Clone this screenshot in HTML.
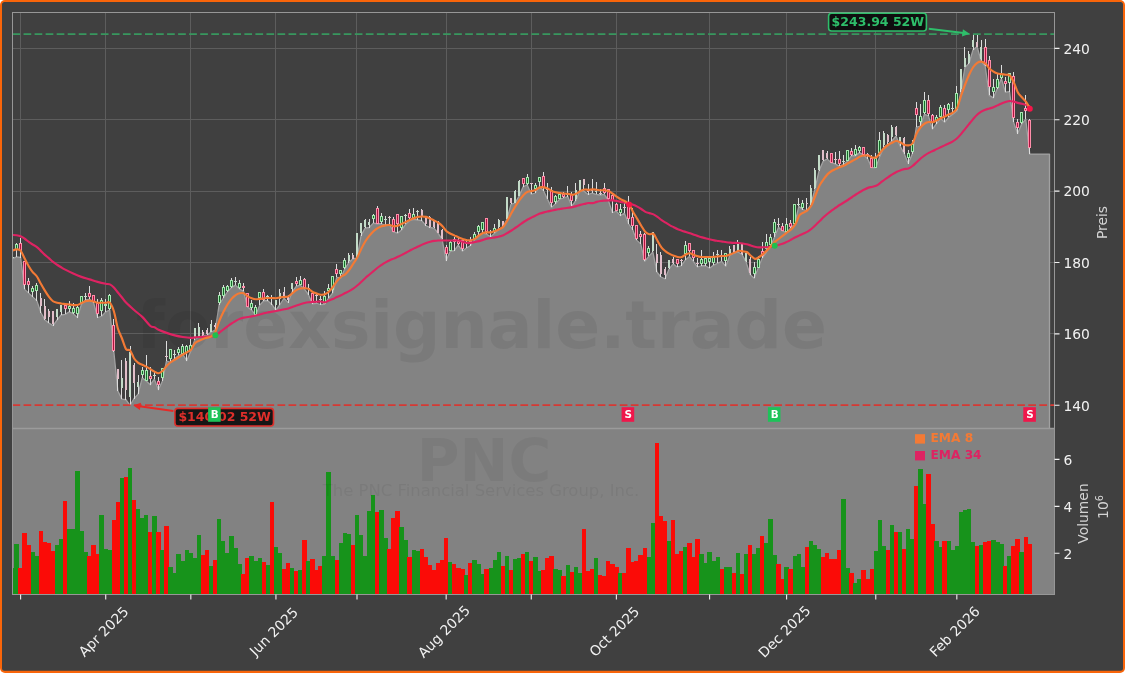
<!DOCTYPE html>
<html lang="de"><head><meta charset="utf-8"><title>PNC Chart</title>
<style>html,body{margin:0;padding:0;background:#fff;}body{width:1125px;height:673px;overflow:hidden;}svg{display:block;}text{font-family:'DejaVu Sans','Liberation Sans',sans-serif;}</style></head><body>
<svg width="1125" height="673" viewBox="0 0 1125 673">
<rect x="0" y="0" width="1125" height="673" fill="#fff"/>
<rect x="0" y="0" width="1125" height="673" rx="5" ry="5" fill="#f9650a"/>
<rect x="2" y="2" width="1121" height="668.7" rx="2.5" ry="2.5" fill="#404040"/>
<g opacity="0.999">
<defs><clipPath id="cp"><rect x="12.5" y="12.5" width="1042" height="416"/></clipPath>
<clipPath id="cv"><rect x="12.5" y="428.5" width="1042" height="166"/></clipPath></defs>
<rect x="12.5" y="428.5" width="1042" height="166" fill="#838383"/>
<path d="M20.5 12.5V428.5M105.5 12.5V428.5M190.5 12.5V428.5M275.5 12.5V428.5M356.5 12.5V428.5M446.5 12.5V428.5M531.5 12.5V428.5M616.5 12.5V428.5M709.5 12.5V428.5M786.5 12.5V428.5M875.5 12.5V428.5M956.5 12.5V428.5M12.5 405.5H1054.5M12.5 333.5H1054.5M12.5 262.5H1054.5M12.5 191.5H1054.5M12.5 119.5H1054.5M12.5 48.5H1054.5" stroke="#5e5e5e" stroke-width="1" fill="none" shape-rendering="crispEdges"/>
<g clip-path="url(#cp)">
<polygon points="12.5,258.75 16.55,256.88 20.61,257.5 24.66,289.38 28.71,293.12 32.76,296.88 36.82,300.62 40.87,312.5 44.92,320 48.98,323.12 53.03,325.62 57.08,320 61.13,315 65.19,314.38 69.24,311.88 73.29,313.75 77.35,317.5 81.4,304.38 85.45,300 89.51,299.38 93.56,302.5 97.61,317.5 101.66,316.25 105.72,311.88 109.77,310 113.82,351.62 117.88,391 121.93,399.12 125.98,399.75 130.03,405.38 134.09,398.5 138.14,394.12 142.19,377.88 146.25,381 150.3,384.75 154.35,379.12 158.4,389.75 162.46,381 166.51,361 170.56,362.25 174.62,358.75 178.67,355.38 182.72,354.12 186.77,360.75 190.83,351 194.88,339.5 198.93,337 202.99,335.75 207.04,335.12 211.09,332 215.15,330.12 219.2,304.5 223.25,298.25 227.3,292 231.36,287.62 235.41,285.12 239.46,288.88 243.52,291.38 247.57,307 251.62,310.12 255.67,315.12 259.73,305.12 263.78,300.75 267.83,300.75 271.89,304.5 275.94,310.12 279.99,304.5 284.04,298.25 288.1,302.62 292.15,292 296.2,286.38 300.26,285.12 304.31,288.88 308.36,294.5 312.41,303.88 316.47,303.25 320.52,304.5 324.57,304.25 328.63,298 332.68,293 336.73,277.38 340.78,278 344.84,268.75 348.89,262.5 352.94,258.75 357,258.12 361.05,235.62 365.1,228.12 369.16,227.5 373.21,223.12 377.26,223.75 381.31,223.75 385.37,225 389.42,224.38 393.47,231.88 397.53,233.12 401.58,230 405.63,224.38 409.68,220.62 413.74,219.38 417.79,220 421.84,220.62 425.9,225.62 429.95,227.5 434,228.12 438.05,233.12 442.11,239.38 446.16,260.62 450.21,251.25 454.27,250.62 458.32,245 462.37,251.25 466.42,248 470.48,245.5 474.53,239.88 478.58,234.88 482.64,233 486.69,234.25 490.74,236.75 494.8,233 498.85,229.25 502.9,226.75 506.95,219.25 511.01,204.25 515.06,203 519.11,196.12 523.17,186.75 527.22,184.88 531.27,194.25 535.32,193 539.38,186.75 543.43,190.5 547.48,199.25 551.54,207.38 555.59,203.62 559.64,199.25 563.69,198 567.75,196.5 571.8,206.12 575.85,200.5 579.91,190.5 583.96,191.12 588.01,194.5 592.06,193.12 596.12,194.38 600.17,195 604.22,194.38 608.28,200 612.33,212.5 616.38,211.25 620.44,215.62 624.49,213.12 628.54,223.75 632.59,229.5 636.65,240.12 640.7,243.88 644.75,261.38 648.81,256.38 652.86,252 656.91,272 660.96,277 665.02,278.88 669.07,268.88 673.12,263.88 677.18,267 681.23,265.75 685.28,260.12 689.33,256.38 693.39,261.38 697.44,267 701.49,265.75 705.55,265.75 709.6,268.25 713.65,265.12 717.7,263.25 721.76,261.38 725.81,266.38 729.86,255.12 733.92,253.25 737.97,252 742.02,254.5 746.07,262 750.13,274.5 754.18,278.25 758.23,267.88 762.29,257.88 766.34,252.25 770.39,246 774.45,237.25 778.5,227.25 782.55,231 786.6,232.88 790.66,227.88 794.71,224.12 798.76,206.38 802.82,209.5 806.87,210.75 810.92,204.5 814.97,188.88 819.03,170.75 823.08,161.38 827.13,158.88 831.19,162.62 835.24,163.88 839.29,166.38 843.34,164.5 847.4,161.38 851.45,155.75 855.5,155.75 859.56,152.62 863.61,155.12 867.66,158.88 871.71,167.62 875.77,167.62 879.82,156.38 883.87,147 887.93,144.5 891.98,141 896.03,136 900.09,146 904.14,153.5 908.19,163.5 912.24,154.12 916.3,127.25 920.35,126 924.4,114.12 928.46,116 932.51,129.12 936.56,123.5 940.61,118.5 944.67,122.25 948.72,117.25 952.77,114.12 956.83,111 960.88,91.62 964.93,67.25 968.98,63.5 973.04,49.75 977.09,46.62 981.14,61 985.2,66 989.25,95.38 993.3,97.88 997.35,88.5 1001.41,78.5 1005.46,92.25 1009.51,91.62 1013.57,122.25 1017.62,133.5 1021.67,124.12 1025.72,119.12 1029.78,154.12 1049.5,154.12 1049.5,428.5 12.5,428.5" fill="#848484"/>
<polyline points="12.5,258.75 16.55,256.88 20.61,257.5 24.66,289.38 28.71,293.12 32.76,296.88 36.82,300.62 40.87,312.5 44.92,320 48.98,323.12 53.03,325.62 57.08,320 61.13,315 65.19,314.38 69.24,311.88 73.29,313.75 77.35,317.5 81.4,304.38 85.45,300 89.51,299.38 93.56,302.5 97.61,317.5 101.66,316.25 105.72,311.88 109.77,310 113.82,351.62 117.88,391 121.93,399.12 125.98,399.75 130.03,405.38 134.09,398.5 138.14,394.12 142.19,377.88 146.25,381 150.3,384.75 154.35,379.12 158.4,389.75 162.46,381 166.51,361 170.56,362.25 174.62,358.75 178.67,355.38 182.72,354.12 186.77,360.75 190.83,351 194.88,339.5 198.93,337 202.99,335.75 207.04,335.12 211.09,332 215.15,330.12 219.2,304.5 223.25,298.25 227.3,292 231.36,287.62 235.41,285.12 239.46,288.88 243.52,291.38 247.57,307 251.62,310.12 255.67,315.12 259.73,305.12 263.78,300.75 267.83,300.75 271.89,304.5 275.94,310.12 279.99,304.5 284.04,298.25 288.1,302.62 292.15,292 296.2,286.38 300.26,285.12 304.31,288.88 308.36,294.5 312.41,303.88 316.47,303.25 320.52,304.5 324.57,304.25 328.63,298 332.68,293 336.73,277.38 340.78,278 344.84,268.75 348.89,262.5 352.94,258.75 357,258.12 361.05,235.62 365.1,228.12 369.16,227.5 373.21,223.12 377.26,223.75 381.31,223.75 385.37,225 389.42,224.38 393.47,231.88 397.53,233.12 401.58,230 405.63,224.38 409.68,220.62 413.74,219.38 417.79,220 421.84,220.62 425.9,225.62 429.95,227.5 434,228.12 438.05,233.12 442.11,239.38 446.16,260.62 450.21,251.25 454.27,250.62 458.32,245 462.37,251.25 466.42,248 470.48,245.5 474.53,239.88 478.58,234.88 482.64,233 486.69,234.25 490.74,236.75 494.8,233 498.85,229.25 502.9,226.75 506.95,219.25 511.01,204.25 515.06,203 519.11,196.12 523.17,186.75 527.22,184.88 531.27,194.25 535.32,193 539.38,186.75 543.43,190.5 547.48,199.25 551.54,207.38 555.59,203.62 559.64,199.25 563.69,198 567.75,196.5 571.8,206.12 575.85,200.5 579.91,190.5 583.96,191.12 588.01,194.5 592.06,193.12 596.12,194.38 600.17,195 604.22,194.38 608.28,200 612.33,212.5 616.38,211.25 620.44,215.62 624.49,213.12 628.54,223.75 632.59,229.5 636.65,240.12 640.7,243.88 644.75,261.38 648.81,256.38 652.86,252 656.91,272 660.96,277 665.02,278.88 669.07,268.88 673.12,263.88 677.18,267 681.23,265.75 685.28,260.12 689.33,256.38 693.39,261.38 697.44,267 701.49,265.75 705.55,265.75 709.6,268.25 713.65,265.12 717.7,263.25 721.76,261.38 725.81,266.38 729.86,255.12 733.92,253.25 737.97,252 742.02,254.5 746.07,262 750.13,274.5 754.18,278.25 758.23,267.88 762.29,257.88 766.34,252.25 770.39,246 774.45,237.25 778.5,227.25 782.55,231 786.6,232.88 790.66,227.88 794.71,224.12 798.76,206.38 802.82,209.5 806.87,210.75 810.92,204.5 814.97,188.88 819.03,170.75 823.08,161.38 827.13,158.88 831.19,162.62 835.24,163.88 839.29,166.38 843.34,164.5 847.4,161.38 851.45,155.75 855.5,155.75 859.56,152.62 863.61,155.12 867.66,158.88 871.71,167.62 875.77,167.62 879.82,156.38 883.87,147 887.93,144.5 891.98,141 896.03,136 900.09,146 904.14,153.5 908.19,163.5 912.24,154.12 916.3,127.25 920.35,126 924.4,114.12 928.46,116 932.51,129.12 936.56,123.5 940.61,118.5 944.67,122.25 948.72,117.25 952.77,114.12 956.83,111 960.88,91.62 964.93,67.25 968.98,63.5 973.04,49.75 977.09,46.62 981.14,61 985.2,66 989.25,95.38 993.3,97.88 997.35,88.5 1001.41,78.5 1005.46,92.25 1009.51,91.62 1013.57,122.25 1017.62,133.5 1021.67,124.12 1025.72,119.12 1029.78,154.12 1049.5,154.12 1049.5,428.5" fill="none" stroke="#a2a2a2" stroke-width="1.3" stroke-linejoin="round"/>
</g>
<text x="481.5" y="348.4" font-size="66.3" font-weight="bold" text-anchor="middle" fill="#000" fill-opacity="0.065">forexsignale.trade</text>
<g clip-path="url(#cp)" shape-rendering="crispEdges">
<g fill="#dedede"><rect x="12" y="256.88" width="1" height="1.88"/><rect x="16" y="243.12" width="1" height="13.75"/><rect x="20" y="238.12" width="1" height="19.38"/><rect x="24" y="260.62" width="1" height="28.75"/><rect x="28" y="278.12" width="1" height="15"/><rect x="32" y="285.62" width="1" height="11.25"/><rect x="36" y="283.12" width="1" height="17.5"/><rect x="40" y="292.5" width="1" height="20"/><rect x="44" y="298.75" width="1" height="21.25"/><rect x="48" y="309.38" width="1" height="13.75"/><rect x="53" y="310.62" width="1" height="15"/><rect x="57" y="308.75" width="1" height="11.25"/><rect x="61" y="305" width="1" height="10"/><rect x="65" y="303.12" width="1" height="11.25"/><rect x="69" y="300.62" width="1" height="11.25"/><rect x="73" y="302.75" width="1" height="11"/><rect x="77" y="306.25" width="1" height="11.25"/><rect x="81" y="295.62" width="1" height="8.75"/><rect x="85" y="292.5" width="1" height="7.5"/><rect x="89" y="286.25" width="1" height="13.12"/><rect x="93" y="294.75" width="1" height="7.75"/><rect x="97" y="299.38" width="1" height="18.12"/><rect x="101" y="297.5" width="1" height="18.75"/><rect x="105" y="298.75" width="1" height="13.12"/><rect x="109" y="294.38" width="1" height="15.62"/><rect x="113" y="319.38" width="1" height="32.25"/><rect x="117" y="368.5" width="1" height="22.5"/><rect x="121" y="360.38" width="1" height="38.75"/><rect x="125" y="357.5" width="1" height="42.25"/><rect x="130" y="346.25" width="1" height="59.12"/><rect x="134" y="362.5" width="1" height="36"/><rect x="138" y="375.38" width="1" height="18.75"/><rect x="142" y="367.25" width="1" height="10.62"/><rect x="146" y="355.38" width="1" height="25.62"/><rect x="150" y="366.62" width="1" height="18.12"/><rect x="154" y="371.62" width="1" height="7.5"/><rect x="158" y="376.62" width="1" height="13.12"/><rect x="162" y="367.88" width="1" height="13.12"/><rect x="166" y="341" width="1" height="20"/><rect x="170" y="348.5" width="1" height="13.75"/><rect x="174" y="350.38" width="1" height="8.38"/><rect x="178" y="346.62" width="1" height="8.75"/><rect x="182" y="344.12" width="1" height="10"/><rect x="186" y="345.38" width="1" height="15.38"/><rect x="190" y="339.12" width="1" height="11.88"/><rect x="194" y="328.25" width="1" height="11.25"/><rect x="198" y="323.25" width="1" height="13.75"/><rect x="202" y="329.5" width="1" height="6.25"/><rect x="207" y="328.25" width="1" height="6.88"/><rect x="211" y="320.12" width="1" height="11.88"/><rect x="215" y="322.62" width="1" height="7.5"/><rect x="219" y="292" width="1" height="12.5"/><rect x="223" y="285.12" width="1" height="13.12"/><rect x="227" y="284.5" width="1" height="7.5"/><rect x="231" y="277.62" width="1" height="10"/><rect x="235" y="277" width="1" height="8.12"/><rect x="239" y="280.12" width="1" height="8.75"/><rect x="243" y="283.25" width="1" height="8.12"/><rect x="247" y="292.62" width="1" height="14.38"/><rect x="251" y="299.5" width="1" height="10.62"/><rect x="255" y="304.5" width="1" height="10.62"/><rect x="259" y="292" width="1" height="13.12"/><rect x="263" y="288.88" width="1" height="11.88"/><rect x="267" y="295.12" width="1" height="5.62"/><rect x="271" y="295.12" width="1" height="9.38"/><rect x="275" y="299.5" width="1" height="10.62"/><rect x="279" y="288.88" width="1" height="15.62"/><rect x="284" y="287" width="1" height="11.25"/><rect x="288" y="295.12" width="1" height="7.5"/><rect x="292" y="282.62" width="1" height="9.38"/><rect x="296" y="277" width="1" height="9.38"/><rect x="300" y="276.38" width="1" height="8.75"/><rect x="304" y="278.25" width="1" height="10.62"/><rect x="308" y="283.88" width="1" height="10.62"/><rect x="312" y="292.62" width="1" height="11.25"/><rect x="316" y="293.88" width="1" height="9.38"/><rect x="320" y="296.38" width="1" height="8.12"/><rect x="324" y="291.12" width="1" height="13.12"/><rect x="328" y="284.25" width="1" height="13.75"/><rect x="332" y="275.5" width="1" height="17.5"/><rect x="336" y="264.25" width="1" height="13.12"/><rect x="340" y="269.88" width="1" height="8.12"/><rect x="344" y="258.12" width="1" height="10.62"/><rect x="348" y="253.12" width="1" height="9.38"/><rect x="352" y="252.5" width="1" height="6.25"/><rect x="356" y="233.12" width="1" height="25"/><rect x="361" y="222.5" width="1" height="13.12"/><rect x="365" y="218.75" width="1" height="9.38"/><rect x="369" y="218.75" width="1" height="8.75"/><rect x="373" y="213.75" width="1" height="9.38"/><rect x="377" y="206.25" width="1" height="17.5"/><rect x="381" y="212.5" width="1" height="11.25"/><rect x="385" y="216.25" width="1" height="8.75"/><rect x="389" y="216.25" width="1" height="8.12"/><rect x="393" y="216.88" width="1" height="15"/><rect x="397" y="213.75" width="1" height="19.38"/><rect x="401" y="215.62" width="1" height="14.38"/><rect x="405" y="214.38" width="1" height="10"/><rect x="409" y="208.75" width="1" height="11.88"/><rect x="413" y="207.5" width="1" height="11.88"/><rect x="417" y="210" width="1" height="10"/><rect x="421" y="208.75" width="1" height="11.88"/><rect x="425" y="216.88" width="1" height="8.75"/><rect x="429" y="215.62" width="1" height="11.88"/><rect x="434" y="220" width="1" height="8.12"/><rect x="438" y="220.62" width="1" height="12.5"/><rect x="442" y="228.75" width="1" height="10.62"/><rect x="446" y="245" width="1" height="15.62"/><rect x="450" y="241.25" width="1" height="10"/><rect x="454" y="236.88" width="1" height="13.75"/><rect x="458" y="238.12" width="1" height="6.88"/><rect x="462" y="239.38" width="1" height="11.88"/><rect x="466" y="239.25" width="1" height="8.75"/><rect x="470" y="236.75" width="1" height="8.75"/><rect x="474" y="232.38" width="1" height="7.5"/><rect x="478" y="224.88" width="1" height="10"/><rect x="482" y="221.75" width="1" height="11.25"/><rect x="486" y="218" width="1" height="16.25"/><rect x="490" y="229.88" width="1" height="6.88"/><rect x="494" y="224.25" width="1" height="8.75"/><rect x="498" y="219.25" width="1" height="10"/><rect x="502" y="220.5" width="1" height="6.25"/><rect x="506" y="196.75" width="1" height="22.5"/><rect x="511" y="198" width="1" height="6.25"/><rect x="515" y="189.88" width="1" height="13.12"/><rect x="519" y="179.88" width="1" height="16.25"/><rect x="523" y="178" width="1" height="8.75"/><rect x="527" y="173.62" width="1" height="11.25"/><rect x="531" y="183" width="1" height="11.25"/><rect x="535" y="183" width="1" height="10"/><rect x="539" y="176.75" width="1" height="10"/><rect x="543" y="172.38" width="1" height="18.12"/><rect x="547" y="183" width="1" height="16.25"/><rect x="551" y="186.75" width="1" height="20.62"/><rect x="555" y="194.88" width="1" height="8.75"/><rect x="559" y="191.75" width="1" height="7.5"/><rect x="563" y="192.38" width="1" height="5.62"/><rect x="567" y="185.5" width="1" height="11"/><rect x="571" y="192.38" width="1" height="13.75"/><rect x="575" y="183" width="1" height="17.5"/><rect x="579" y="179.88" width="1" height="10.62"/><rect x="583" y="178.62" width="1" height="12.5"/><rect x="588" y="184.25" width="1" height="10.25"/><rect x="592" y="179.38" width="1" height="13.75"/><rect x="596" y="181.88" width="1" height="12.5"/><rect x="600" y="188.75" width="1" height="6.25"/><rect x="604" y="183.12" width="1" height="11.25"/><rect x="608" y="188.75" width="1" height="11.25"/><rect x="612" y="194.38" width="1" height="18.12"/><rect x="616" y="202.5" width="1" height="8.75"/><rect x="620" y="204.38" width="1" height="11.25"/><rect x="624" y="203.12" width="1" height="10"/><rect x="628" y="196.25" width="1" height="27.5"/><rect x="632" y="207.62" width="1" height="21.88"/><rect x="636" y="224.5" width="1" height="15.62"/><rect x="640" y="230.75" width="1" height="13.12"/><rect x="644" y="232.62" width="1" height="28.75"/><rect x="648" y="246.38" width="1" height="10"/><rect x="652" y="232" width="1" height="20"/><rect x="656" y="243.88" width="1" height="28.12"/><rect x="660" y="252" width="1" height="25"/><rect x="665" y="267" width="1" height="11.88"/><rect x="669" y="259.5" width="1" height="9.38"/><rect x="673" y="257" width="1" height="6.88"/><rect x="677" y="258.88" width="1" height="8.12"/><rect x="681" y="258.88" width="1" height="6.88"/><rect x="685" y="241.38" width="1" height="18.75"/><rect x="689" y="242.62" width="1" height="13.75"/><rect x="693" y="250.12" width="1" height="11.25"/><rect x="697" y="257.62" width="1" height="9.38"/><rect x="701" y="249.5" width="1" height="16.25"/><rect x="705" y="258.25" width="1" height="7.5"/><rect x="709" y="258.25" width="1" height="10"/><rect x="713" y="252" width="1" height="13.12"/><rect x="717" y="249.5" width="1" height="13.75"/><rect x="721" y="250.12" width="1" height="11.25"/><rect x="725" y="252.62" width="1" height="13.75"/><rect x="729" y="246.38" width="1" height="8.75"/><rect x="733" y="245.12" width="1" height="8.12"/><rect x="737" y="240.12" width="1" height="11.88"/><rect x="742" y="242.62" width="1" height="11.88"/><rect x="746" y="250.75" width="1" height="11.25"/><rect x="750" y="257" width="1" height="17.5"/><rect x="754" y="262" width="1" height="16.25"/><rect x="758" y="256" width="1" height="11.88"/><rect x="762" y="242.25" width="1" height="15.62"/><rect x="766" y="234.12" width="1" height="18.12"/><rect x="770" y="234.12" width="1" height="11.88"/><rect x="774" y="218.5" width="1" height="18.75"/><rect x="778" y="217.88" width="1" height="9.38"/><rect x="782" y="222.88" width="1" height="8.12"/><rect x="786" y="217.88" width="1" height="15"/><rect x="790" y="220.38" width="1" height="7.5"/><rect x="794" y="203.5" width="1" height="20.62"/><rect x="798" y="198.25" width="1" height="8.12"/><rect x="802" y="200.12" width="1" height="9.38"/><rect x="806" y="198.25" width="1" height="12.5"/><rect x="810" y="184.5" width="1" height="20"/><rect x="814" y="168.25" width="1" height="20.62"/><rect x="819" y="154.5" width="1" height="16.25"/><rect x="823" y="150.12" width="1" height="11.25"/><rect x="827" y="151.38" width="1" height="7.5"/><rect x="831" y="152.62" width="1" height="10"/><rect x="835" y="152" width="1" height="11.88"/><rect x="839" y="151.38" width="1" height="15"/><rect x="843" y="154.5" width="1" height="10"/><rect x="847" y="150.12" width="1" height="11.25"/><rect x="851" y="147.62" width="1" height="8.12"/><rect x="855" y="145.12" width="1" height="10.62"/><rect x="859" y="146.38" width="1" height="6.25"/><rect x="863" y="146.75" width="1" height="8.38"/><rect x="867" y="153.25" width="1" height="5.62"/><rect x="871" y="155.12" width="1" height="12.5"/><rect x="875" y="152.62" width="1" height="15"/><rect x="879" y="132" width="1" height="24.38"/><rect x="883" y="131.38" width="1" height="15.62"/><rect x="887" y="133.88" width="1" height="10.62"/><rect x="891" y="124.75" width="1" height="16.25"/><rect x="896" y="126" width="1" height="10"/><rect x="900" y="136.62" width="1" height="9.38"/><rect x="904" y="137.25" width="1" height="16.25"/><rect x="908" y="150.38" width="1" height="13.12"/><rect x="912" y="139.75" width="1" height="14.38"/><rect x="916" y="101.62" width="1" height="25.62"/><rect x="920" y="103.5" width="1" height="22.5"/><rect x="924" y="92.25" width="1" height="21.88"/><rect x="928" y="94.75" width="1" height="21.25"/><rect x="932" y="113.5" width="1" height="15.62"/><rect x="936" y="114.5" width="1" height="9"/><rect x="940" y="105.38" width="1" height="13.12"/><rect x="944" y="105.38" width="1" height="16.88"/><rect x="948" y="102.88" width="1" height="14.38"/><rect x="952" y="102.25" width="1" height="11.88"/><rect x="956" y="86" width="1" height="25"/><rect x="960" y="69.12" width="1" height="22.5"/><rect x="964" y="47.25" width="1" height="20"/><rect x="968" y="51" width="1" height="12.5"/><rect x="973" y="34.12" width="1" height="15.62"/><rect x="977" y="34.75" width="1" height="11.88"/><rect x="981" y="40.38" width="1" height="20.62"/><rect x="985" y="39.12" width="1" height="26.88"/><rect x="989" y="56" width="1" height="39.38"/><rect x="993" y="78.5" width="1" height="19.38"/><rect x="997" y="74.12" width="1" height="14.38"/><rect x="1001" y="65.38" width="1" height="13.12"/><rect x="1005" y="77.25" width="1" height="15"/><rect x="1009" y="72.88" width="1" height="18.75"/><rect x="1013" y="71.62" width="1" height="50.62"/><rect x="1017" y="119.12" width="1" height="14.38"/><rect x="1021" y="111.62" width="1" height="12.5"/><rect x="1025" y="95.38" width="1" height="23.75"/><rect x="1029" y="119.12" width="1" height="35"/></g>
<g fill="#a6e6b0"><rect x="15" y="244" width="3" height="6"/><rect x="31" y="288" width="3" height="4"/><rect x="35" y="285" width="3" height="6"/><rect x="68" y="306" width="3" height="3"/><rect x="72" y="308" width="3" height="5"/><rect x="76" y="307" width="3" height="7"/><rect x="80" y="296" width="3" height="7"/><rect x="100" y="300" width="3" height="11"/><rect x="104" y="304" width="3" height="2"/><rect x="108" y="295" width="3" height="14"/><rect x="141" y="370" width="3" height="5"/><rect x="145" y="370" width="3" height="11"/><rect x="161" y="368" width="3" height="10"/><rect x="169" y="349" width="3" height="10"/><rect x="177" y="349" width="3" height="4"/><rect x="181" y="346" width="3" height="8"/><rect x="185" y="346" width="3" height="7"/><rect x="189" y="345" width="3" height="5"/><rect x="218" y="295" width="3" height="8"/><rect x="222" y="287" width="3" height="9"/><rect x="226" y="286" width="3" height="5"/><rect x="230" y="280" width="3" height="7"/><rect x="238" y="283" width="3" height="5"/><rect x="250" y="303" width="3" height="5"/><rect x="254" y="307" width="3" height="8"/><rect x="258" y="292" width="3" height="6"/><rect x="299" y="280" width="3" height="5"/><rect x="323" y="296" width="3" height="8"/><rect x="327" y="288" width="3" height="3"/><rect x="331" y="276" width="3" height="14"/><rect x="339" y="270" width="3" height="4"/><rect x="343" y="260" width="3" height="8"/><rect x="372" y="215" width="3" height="4"/><rect x="380" y="216" width="3" height="6"/><rect x="400" y="216" width="3" height="12"/><rect x="412" y="214" width="3" height="4"/><rect x="449" y="242" width="3" height="9"/><rect x="473" y="234" width="3" height="5"/><rect x="477" y="226" width="3" height="6"/><rect x="481" y="222" width="3" height="8"/><rect x="493" y="228" width="3" height="4"/><rect x="526" y="177" width="3" height="7"/><rect x="534" y="185" width="3" height="4"/><rect x="538" y="177" width="3" height="5"/><rect x="554" y="196" width="3" height="6"/><rect x="558" y="194" width="3" height="5"/><rect x="619" y="209" width="3" height="4"/><rect x="647" y="248" width="3" height="5"/><rect x="684" y="245" width="3" height="9"/><rect x="700" y="259" width="3" height="5"/><rect x="704" y="258" width="3" height="6"/><rect x="708" y="258" width="3" height="4"/><rect x="712" y="257" width="3" height="6"/><rect x="724" y="253" width="3" height="8"/><rect x="753" y="267" width="3" height="7"/><rect x="757" y="259" width="3" height="9"/><rect x="765" y="242" width="3" height="7"/><rect x="769" y="237" width="3" height="8"/><rect x="773" y="222" width="3" height="11"/><rect x="785" y="224" width="3" height="8"/><rect x="793" y="204" width="3" height="20"/><rect x="801" y="203" width="3" height="5"/><rect x="846" y="150" width="3" height="11"/><rect x="854" y="149" width="3" height="6"/><rect x="858" y="147" width="3" height="4"/><rect x="874" y="158" width="3" height="10"/><rect x="878" y="140" width="3" height="13"/><rect x="907" y="153" width="3" height="5"/><rect x="911" y="144" width="3" height="8"/><rect x="919" y="116" width="3" height="6"/><rect x="923" y="100" width="3" height="13"/><rect x="935" y="117" width="3" height="4"/><rect x="939" y="107" width="3" height="10"/><rect x="947" y="104" width="3" height="6"/><rect x="955" y="93" width="3" height="17"/><rect x="992" y="87" width="3" height="5"/><rect x="996" y="79" width="3" height="9"/><rect x="1000" y="74" width="3" height="4"/><rect x="1008" y="73" width="3" height="10"/><rect x="1020" y="112" width="3" height="11"/></g>
<g fill="#ff8fab"><rect x="19" y="243" width="3" height="8"/><rect x="23" y="261" width="3" height="24"/><rect x="27" y="281" width="3" height="4"/><rect x="64" y="305" width="3" height="4"/><rect x="88" y="293" width="3" height="4"/><rect x="92" y="295" width="3" height="7"/><rect x="96" y="303" width="3" height="11"/><rect x="112" y="325" width="3" height="26"/><rect x="149" y="376" width="3" height="3"/><rect x="157" y="381" width="3" height="4"/><rect x="242" y="286" width="3" height="2"/><rect x="246" y="293" width="3" height="14"/><rect x="262" y="292" width="3" height="8"/><rect x="295" y="281" width="3" height="3"/><rect x="303" y="279" width="3" height="9"/><rect x="311" y="293" width="3" height="9"/><rect x="335" y="269" width="3" height="5"/><rect x="376" y="208" width="3" height="16"/><rect x="392" y="219" width="3" height="13"/><rect x="396" y="214" width="3" height="10"/><rect x="408" y="213" width="3" height="5"/><rect x="445" y="247" width="3" height="7"/><rect x="453" y="239" width="3" height="3"/><rect x="457" y="241" width="3" height="3"/><rect x="461" y="240" width="3" height="9"/><rect x="469" y="241" width="3" height="3"/><rect x="485" y="218" width="3" height="14"/><rect x="522" y="178" width="3" height="6"/><rect x="542" y="176" width="3" height="12"/><rect x="550" y="190" width="3" height="13"/><rect x="562" y="194" width="3" height="3"/><rect x="570" y="194" width="3" height="7"/><rect x="603" y="188" width="3" height="5"/><rect x="607" y="189" width="3" height="10"/><rect x="611" y="195" width="3" height="6"/><rect x="615" y="204" width="3" height="7"/><rect x="627" y="203" width="3" height="16"/><rect x="631" y="217" width="3" height="9"/><rect x="635" y="225" width="3" height="14"/><rect x="639" y="234" width="3" height="3"/><rect x="643" y="234" width="3" height="26"/><rect x="676" y="259" width="3" height="5"/><rect x="688" y="243" width="3" height="8"/><rect x="692" y="250" width="3" height="8"/><rect x="761" y="251" width="3" height="5"/><rect x="781" y="226" width="3" height="5"/><rect x="789" y="223" width="3" height="4"/><rect x="830" y="153" width="3" height="10"/><rect x="838" y="159" width="3" height="5"/><rect x="850" y="151" width="3" height="4"/><rect x="862" y="147" width="3" height="8"/><rect x="866" y="154" width="3" height="2"/><rect x="870" y="158" width="3" height="10"/><rect x="915" y="108" width="3" height="7"/><rect x="927" y="100" width="3" height="14"/><rect x="931" y="115" width="3" height="8"/><rect x="943" y="108" width="3" height="9"/><rect x="984" y="47" width="3" height="18"/><rect x="988" y="60" width="3" height="27"/><rect x="1004" y="81" width="3" height="3"/><rect x="1012" y="76" width="3" height="42"/><rect x="1016" y="122" width="3" height="6"/><rect x="1024" y="108" width="3" height="3"/><rect x="1028" y="120" width="3" height="28"/></g>
<g fill="#147028"><rect x="16" y="245" width="1" height="4"/><rect x="32" y="289" width="1" height="2"/><rect x="36" y="286" width="1" height="4"/><rect x="69" y="307" width="1" height="1"/><rect x="73" y="309" width="1" height="3"/><rect x="77" y="308" width="1" height="5"/><rect x="81" y="297" width="1" height="5"/><rect x="101" y="301" width="1" height="9"/><rect x="109" y="296" width="1" height="12"/><rect x="142" y="371" width="1" height="3"/><rect x="146" y="371" width="1" height="9"/><rect x="162" y="369" width="1" height="8"/><rect x="170" y="350" width="1" height="8"/><rect x="178" y="350" width="1" height="2"/><rect x="182" y="347" width="1" height="6"/><rect x="186" y="347" width="1" height="5"/><rect x="190" y="346" width="1" height="3"/><rect x="219" y="296" width="1" height="6"/><rect x="223" y="288" width="1" height="7"/><rect x="227" y="287" width="1" height="3"/><rect x="231" y="281" width="1" height="5"/><rect x="239" y="284" width="1" height="3"/><rect x="251" y="304" width="1" height="3"/><rect x="255" y="308" width="1" height="6"/><rect x="259" y="293" width="1" height="4"/><rect x="300" y="281" width="1" height="3"/><rect x="324" y="297" width="1" height="6"/><rect x="328" y="289" width="1" height="1"/><rect x="332" y="277" width="1" height="12"/><rect x="340" y="271" width="1" height="2"/><rect x="344" y="261" width="1" height="6"/><rect x="373" y="216" width="1" height="2"/><rect x="381" y="217" width="1" height="4"/><rect x="401" y="217" width="1" height="10"/><rect x="413" y="215" width="1" height="2"/><rect x="450" y="243" width="1" height="7"/><rect x="474" y="235" width="1" height="3"/><rect x="478" y="227" width="1" height="4"/><rect x="482" y="223" width="1" height="6"/><rect x="494" y="229" width="1" height="2"/><rect x="527" y="178" width="1" height="5"/><rect x="535" y="186" width="1" height="2"/><rect x="539" y="178" width="1" height="3"/><rect x="555" y="197" width="1" height="4"/><rect x="559" y="195" width="1" height="3"/><rect x="620" y="210" width="1" height="2"/><rect x="648" y="249" width="1" height="3"/><rect x="685" y="246" width="1" height="7"/><rect x="701" y="260" width="1" height="3"/><rect x="705" y="259" width="1" height="4"/><rect x="709" y="259" width="1" height="2"/><rect x="713" y="258" width="1" height="4"/><rect x="725" y="254" width="1" height="6"/><rect x="754" y="268" width="1" height="5"/><rect x="758" y="260" width="1" height="7"/><rect x="766" y="243" width="1" height="5"/><rect x="770" y="238" width="1" height="6"/><rect x="774" y="223" width="1" height="9"/><rect x="786" y="225" width="1" height="6"/><rect x="794" y="205" width="1" height="18"/><rect x="802" y="204" width="1" height="3"/><rect x="847" y="151" width="1" height="9"/><rect x="855" y="150" width="1" height="4"/><rect x="859" y="148" width="1" height="2"/><rect x="875" y="159" width="1" height="8"/><rect x="879" y="141" width="1" height="11"/><rect x="908" y="154" width="1" height="3"/><rect x="912" y="145" width="1" height="6"/><rect x="920" y="117" width="1" height="4"/><rect x="924" y="101" width="1" height="11"/><rect x="936" y="118" width="1" height="2"/><rect x="940" y="108" width="1" height="8"/><rect x="948" y="105" width="1" height="4"/><rect x="956" y="94" width="1" height="15"/><rect x="993" y="88" width="1" height="3"/><rect x="997" y="80" width="1" height="7"/><rect x="1001" y="75" width="1" height="2"/><rect x="1009" y="74" width="1" height="8"/><rect x="1021" y="113" width="1" height="9"/></g>
<g fill="#b01440"><rect x="20" y="244" width="1" height="6"/><rect x="24" y="262" width="1" height="22"/><rect x="28" y="282" width="1" height="2"/><rect x="65" y="306" width="1" height="2"/><rect x="89" y="294" width="1" height="2"/><rect x="93" y="296" width="1" height="5"/><rect x="97" y="304" width="1" height="9"/><rect x="113" y="326" width="1" height="24"/><rect x="150" y="377" width="1" height="1"/><rect x="158" y="382" width="1" height="2"/><rect x="247" y="294" width="1" height="12"/><rect x="263" y="293" width="1" height="6"/><rect x="296" y="282" width="1" height="1"/><rect x="304" y="280" width="1" height="7"/><rect x="312" y="294" width="1" height="7"/><rect x="336" y="270" width="1" height="3"/><rect x="377" y="209" width="1" height="14"/><rect x="393" y="220" width="1" height="11"/><rect x="397" y="215" width="1" height="8"/><rect x="409" y="214" width="1" height="3"/><rect x="446" y="248" width="1" height="5"/><rect x="454" y="240" width="1" height="1"/><rect x="458" y="242" width="1" height="1"/><rect x="462" y="241" width="1" height="7"/><rect x="470" y="242" width="1" height="1"/><rect x="486" y="219" width="1" height="12"/><rect x="523" y="179" width="1" height="4"/><rect x="543" y="177" width="1" height="10"/><rect x="551" y="191" width="1" height="11"/><rect x="563" y="195" width="1" height="1"/><rect x="571" y="195" width="1" height="5"/><rect x="604" y="189" width="1" height="3"/><rect x="608" y="190" width="1" height="8"/><rect x="612" y="196" width="1" height="4"/><rect x="616" y="205" width="1" height="5"/><rect x="628" y="204" width="1" height="14"/><rect x="632" y="218" width="1" height="7"/><rect x="636" y="226" width="1" height="12"/><rect x="640" y="235" width="1" height="1"/><rect x="644" y="235" width="1" height="24"/><rect x="677" y="260" width="1" height="3"/><rect x="689" y="244" width="1" height="6"/><rect x="693" y="251" width="1" height="6"/><rect x="762" y="252" width="1" height="3"/><rect x="782" y="227" width="1" height="3"/><rect x="790" y="224" width="1" height="2"/><rect x="831" y="154" width="1" height="8"/><rect x="839" y="160" width="1" height="3"/><rect x="851" y="152" width="1" height="2"/><rect x="863" y="148" width="1" height="6"/><rect x="871" y="159" width="1" height="8"/><rect x="916" y="109" width="1" height="5"/><rect x="928" y="101" width="1" height="12"/><rect x="932" y="116" width="1" height="6"/><rect x="944" y="109" width="1" height="7"/><rect x="985" y="48" width="1" height="16"/><rect x="989" y="61" width="1" height="25"/><rect x="1005" y="82" width="1" height="1"/><rect x="1013" y="77" width="1" height="40"/><rect x="1017" y="123" width="1" height="4"/><rect x="1025" y="109" width="1" height="1"/><rect x="1029" y="121" width="1" height="26"/></g>
<g fill="#c4dcc9"><rect x="11" y="257" width="3" height="1"/><rect x="56" y="309" width="2" height="8"/><rect x="60" y="305" width="2" height="7"/><rect x="84" y="296" width="3" height="1"/><rect x="121" y="378" width="2" height="10"/><rect x="129" y="352" width="2" height="45"/><rect x="137" y="382" width="2" height="5"/><rect x="153" y="375" width="3" height="1"/><rect x="173" y="354" width="3" height="1"/><rect x="194" y="328" width="2" height="10"/><rect x="198" y="327" width="2" height="10"/><rect x="210" y="324" width="2" height="8"/><rect x="234" y="281" width="3" height="1"/><rect x="266" y="296" width="3" height="1"/><rect x="275" y="300" width="2" height="5"/><rect x="279" y="293" width="2" height="6"/><rect x="291" y="283" width="2" height="6"/><rect x="307" y="288" width="3" height="1"/><rect x="348" y="255" width="2" height="6"/><rect x="356" y="233" width="2" height="25"/><rect x="360" y="223" width="2" height="10"/><rect x="364" y="220" width="2" height="7"/><rect x="368" y="222" width="2" height="3"/><rect x="384" y="219" width="3" height="1"/><rect x="404" y="215" width="3" height="1"/><rect x="416" y="211" width="3" height="1"/><rect x="465" y="243" width="3" height="1"/><rect x="489" y="232" width="3" height="1"/><rect x="498" y="220" width="2" height="7"/><rect x="506" y="197" width="2" height="22"/><rect x="514" y="191" width="2" height="12"/><rect x="518" y="181" width="2" height="15"/><rect x="566" y="194" width="3" height="1"/><rect x="575" y="190" width="2" height="9"/><rect x="579" y="180" width="2" height="10"/><rect x="595" y="191" width="2" height="1"/><rect x="652" y="232" width="2" height="19"/><rect x="668" y="260" width="2" height="8"/><rect x="716" y="254" width="3" height="1"/><rect x="729" y="249" width="2" height="5"/><rect x="737" y="244" width="2" height="7"/><rect x="745" y="253" width="2" height="8"/><rect x="797" y="204" width="3" height="1"/><rect x="810" y="188" width="2" height="16"/><rect x="814" y="170" width="2" height="18"/><rect x="818" y="155" width="2" height="15"/><rect x="842" y="161" width="3" height="1"/><rect x="883" y="133" width="2" height="12"/><rect x="891" y="127" width="2" height="10"/><rect x="899" y="137" width="2" height="6"/><rect x="951" y="108" width="3" height="1"/><rect x="960" y="69" width="2" height="20"/><rect x="964" y="58" width="2" height="9"/><rect x="968" y="54" width="2" height="9"/><rect x="972" y="40" width="2" height="7"/><rect x="980" y="47" width="2" height="12"/></g>
<g fill="#e2bfca"><rect x="40" y="298" width="2" height="8"/><rect x="44" y="306" width="2" height="13"/><rect x="48" y="311" width="2" height="6"/><rect x="52" y="311" width="2" height="13"/><rect x="117" y="369" width="2" height="10"/><rect x="125" y="361" width="2" height="29"/><rect x="133" y="365" width="2" height="18"/><rect x="165" y="356" width="3" height="1"/><rect x="202" y="332" width="2" height="3"/><rect x="206" y="330" width="2" height="4"/><rect x="214" y="325" width="2" height="2"/><rect x="271" y="297" width="2" height="1"/><rect x="283" y="292" width="2" height="4"/><rect x="287" y="296" width="2" height="4"/><rect x="315" y="295" width="3" height="1"/><rect x="319" y="299" width="3" height="1"/><rect x="352" y="255" width="2" height="4"/><rect x="388" y="217" width="3" height="1"/><rect x="421" y="210" width="2" height="7"/><rect x="425" y="218" width="2" height="6"/><rect x="429" y="217" width="2" height="10"/><rect x="433" y="221" width="2" height="6"/><rect x="437" y="222" width="2" height="11"/><rect x="441" y="230" width="2" height="8"/><rect x="502" y="221" width="2" height="6"/><rect x="510" y="198" width="2" height="5"/><rect x="530" y="183" width="3" height="1"/><rect x="546" y="189" width="3" height="1"/><rect x="583" y="179" width="2" height="6"/><rect x="587" y="191" width="2" height="1"/><rect x="591" y="190" width="2" height="1"/><rect x="599" y="193" width="3" height="1"/><rect x="623" y="207" width="3" height="1"/><rect x="656" y="254" width="2" height="9"/><rect x="660" y="255" width="2" height="19"/><rect x="664" y="269" width="2" height="6"/><rect x="672" y="259" width="2" height="4"/><rect x="680" y="260" width="3" height="1"/><rect x="696" y="263" width="3" height="1"/><rect x="720" y="255" width="3" height="1"/><rect x="733" y="245" width="2" height="8"/><rect x="741" y="244" width="2" height="10"/><rect x="749" y="259" width="2" height="14"/><rect x="777" y="224" width="3" height="1"/><rect x="806" y="203" width="2" height="1"/><rect x="822" y="150" width="2" height="10"/><rect x="826" y="153" width="2" height="5"/><rect x="834" y="159" width="3" height="1"/><rect x="887" y="135" width="2" height="7"/><rect x="895" y="127" width="2" height="8"/><rect x="903" y="138" width="2" height="14"/><rect x="976" y="42" width="2" height="5"/></g>
</g>
<g clip-path="url(#cp)" fill="none" stroke-linejoin="round" stroke-linecap="round">
<path d="M12.5 235C13.17 235.04 15.15 235.04 16.5 235.25C17.85 235.46 19.25 235.67 20.62 236.25C22 236.83 23.4 237.81 24.75 238.75C26.1 239.69 27.46 240.94 28.75 241.88C30.04 242.81 31.19 243.54 32.5 244.38C33.81 245.21 35.27 245.83 36.62 246.88C37.98 247.92 39.33 249.38 40.62 250.62C41.92 251.88 43.02 253.12 44.38 254.38C45.73 255.62 47.31 256.88 48.75 258.12C50.19 259.38 51.6 260.77 53 261.88C54.4 262.98 55.77 263.85 57.12 264.75C58.48 265.65 59.77 266.44 61.12 267.25C62.48 268.06 63.23 268.58 65.25 269.62C67.27 270.67 70.56 272.29 73.25 273.5C75.94 274.71 78.67 275.9 81.38 276.88C84.08 277.85 86.79 278.54 89.5 279.38C92.21 280.21 94.92 281.15 97.62 281.88C100.33 282.6 103.71 283.33 105.75 283.75C107.79 284.17 108.52 283.75 109.88 284.38C111.23 285 112.54 286.15 113.88 287.5C115.21 288.85 116.52 290.83 117.88 292.5C119.23 294.17 120.65 295.83 122 297.5C123.35 299.17 123.98 300.42 126 302.5C128.02 304.58 131.42 307.6 134.12 310C136.83 312.4 139.54 314.21 142.25 316.88C144.96 319.54 148.33 324.27 150.38 326C152.42 327.73 153.15 326.62 154.5 327.25C155.85 327.88 156.48 328.81 158.5 329.75C160.52 330.69 163.92 331.94 166.62 332.88C169.33 333.81 172.04 334.69 174.75 335.38C177.46 336.06 180.17 336.58 182.88 337C185.58 337.42 188.98 337.81 191 337.88C193.02 337.94 193.65 337.52 195 337.38C196.35 337.23 197.1 337.12 199.12 337C201.15 336.88 205.1 336.73 207.12 336.62C209.15 336.52 209.9 336.52 211.25 336.38C212.6 336.23 213.9 336.38 215.25 335.75C216.6 335.12 218.02 333.67 219.38 332.62C220.73 331.58 222.02 330.54 223.38 329.5C224.73 328.46 226.15 327.38 227.5 326.38C228.85 325.38 230.15 324.4 231.5 323.5C232.85 322.6 234.27 321.77 235.62 321C236.98 320.23 238.27 319.44 239.62 318.88C240.98 318.31 242.4 317.94 243.75 317.62C245.1 317.31 246.42 317.21 247.75 317C249.08 316.79 250.4 316.62 251.75 316.38C253.1 316.12 254.52 315.81 255.88 315.5C257.23 315.19 258.52 314.88 259.88 314.5C261.23 314.12 262.65 313.6 264 313.25C265.35 312.9 266.65 312.65 268 312.38C269.35 312.1 270.77 311.85 272.12 311.62C273.48 311.4 274.77 311.25 276.12 311C277.48 310.75 278.9 310.42 280.25 310.12C281.6 309.83 282.9 309.52 284.25 309.25C285.6 308.98 287.02 308.88 288.38 308.5C289.73 308.12 291.04 307.5 292.38 307C293.71 306.5 295.02 305.96 296.38 305.5C297.73 305.04 299.15 304.67 300.5 304.25C301.85 303.83 303.15 303.33 304.5 303C305.85 302.67 307.27 302.42 308.62 302.25C309.98 302.08 311.27 302.08 312.62 302C313.98 301.92 315.4 301.83 316.75 301.75C318.1 301.67 319.4 301.4 320.75 301.5C322.1 301.6 323.52 302.54 324.88 302.38C326.23 302.21 327.52 301.06 328.88 300.5C330.23 299.94 331.65 299.58 333 299C334.35 298.42 335.67 297.62 337 297C338.33 296.38 339.65 295.92 341 295.25C342.35 294.58 343.77 293.69 345.12 293C346.48 292.31 347.77 291.85 349.12 291.12C350.48 290.4 351.9 289.56 353.25 288.62C354.6 287.69 355.9 286.65 357.25 285.5C358.6 284.35 360.02 283 361.38 281.75C362.73 280.5 364.02 279.21 365.38 278C366.73 276.79 368.15 275.65 369.5 274.5C370.85 273.35 372.17 272.25 373.5 271.12C374.83 270 376.15 268.79 377.5 267.75C378.85 266.71 380.27 265.77 381.62 264.88C382.98 263.98 384.27 263.15 385.62 262.38C386.98 261.6 388.4 260.88 389.75 260.25C391.1 259.62 392.42 259.21 393.75 258.62C395.08 258.04 396.4 257.38 397.75 256.75C399.1 256.12 400.52 255.54 401.88 254.88C403.23 254.21 404.52 253.48 405.88 252.75C407.23 252.02 408.65 251.23 410 250.5C411.35 249.77 412.65 249.04 414 248.38C415.35 247.71 416.77 247.12 418.12 246.5C419.48 245.88 420.77 245.21 422.12 244.62C423.48 244.04 424.9 243.48 426.25 243C427.6 242.52 428.9 242.1 430.25 241.75C431.6 241.4 433.02 241.08 434.38 240.88C435.73 240.67 437.02 240.56 438.38 240.5C439.73 240.44 441.15 240.5 442.5 240.5C443.85 240.5 445.15 240.5 446.5 240.5C447.85 240.5 449.27 240.5 450.62 240.5C451.98 240.5 453.27 240.5 454.62 240.5C455.98 240.5 456.71 240.08 458.75 240.5C460.79 240.92 464.85 242.62 466.88 243C468.9 243.38 469.52 242.92 470.88 242.75C472.23 242.58 473.65 242.27 475 242C476.35 241.73 477.67 241.48 479 241.12C480.33 240.77 481.65 240.29 483 239.88C484.35 239.46 485.77 238.94 487.12 238.62C488.48 238.31 489.77 238.21 491.12 238C492.48 237.79 493.9 237.62 495.25 237.38C496.6 237.12 497.9 236.85 499.25 236.5C500.6 236.15 502.02 235.83 503.38 235.25C504.73 234.67 506.02 233.79 507.38 233C508.73 232.21 510.15 231.38 511.5 230.5C512.85 229.62 514.15 228.69 515.5 227.75C516.85 226.81 518.27 225.83 519.62 224.88C520.98 223.92 522.29 222.9 523.62 222C524.96 221.1 526.27 220.27 527.62 219.5C528.98 218.73 530.4 218.04 531.75 217.38C533.1 216.71 534.4 216.12 535.75 215.5C537.1 214.88 538.52 214.15 539.88 213.62C541.23 213.1 542.52 212.75 543.88 212.38C545.23 212 546.65 211.69 548 211.38C549.35 211.06 550.65 210.79 552 210.5C553.35 210.21 554.77 209.88 556.12 209.62C557.48 209.38 558.77 209.23 560.12 209C561.48 208.77 562.9 208.46 564.25 208.25C565.6 208.04 566.9 207.94 568.25 207.75C569.6 207.56 571.02 207.4 572.38 207.12C573.73 206.85 575.04 206.5 576.38 206.12C577.71 205.75 579.02 205.25 580.38 204.88C581.73 204.5 583.15 204.19 584.5 203.88C585.85 203.56 587.15 203.12 588.5 203C589.85 202.88 591.27 203.31 592.62 203.12C593.98 202.94 595.27 202.23 596.62 201.88C597.98 201.52 599.4 201.21 600.75 201C602.1 200.79 603.4 200.73 604.75 200.62C606.1 200.52 607.52 200.42 608.88 200.38C610.23 200.33 611.52 200.27 612.88 200.38C614.23 200.48 615.65 200.75 617 201C618.35 201.25 619.67 201.58 621 201.88C622.33 202.17 623.65 202.48 625 202.75C626.35 203.02 627.77 203.17 629.12 203.5C630.48 203.83 631.77 204.23 633.12 204.75C634.48 205.27 635.9 205.92 637.25 206.62C638.6 207.33 639.9 208.12 641.25 209C642.6 209.88 644.02 211.19 645.38 211.88C646.73 212.56 648.02 212.71 649.38 213.12C650.73 213.54 652.15 213.75 653.5 214.38C654.85 215 656.15 215.92 657.5 216.88C658.85 217.83 660.27 219.17 661.62 220.12C662.98 221.08 664.29 221.79 665.62 222.62C666.96 223.46 668.27 224.35 669.62 225.12C670.98 225.9 672.4 226.56 673.75 227.25C675.1 227.94 676.4 228.67 677.75 229.25C679.1 229.83 680.52 230.29 681.88 230.75C683.23 231.21 684.52 231.58 685.88 232C687.23 232.42 688.65 232.79 690 233.25C691.35 233.71 692.65 234.27 694 234.75C695.35 235.23 696.77 235.69 698.12 236.12C699.48 236.56 700.77 236.98 702.12 237.38C703.48 237.77 704.9 238.15 706.25 238.5C707.6 238.85 708.92 239.19 710.25 239.5C711.58 239.81 712.9 240.12 714.25 240.38C715.6 240.62 717.02 240.79 718.38 241C719.73 241.21 721.02 241.42 722.38 241.62C723.73 241.83 725.15 242.08 726.5 242.25C727.85 242.42 729.15 242.52 730.5 242.62C731.85 242.73 733.27 242.81 734.62 242.88C735.98 242.94 737.27 242.9 738.62 243C739.98 243.1 741.4 243.29 742.75 243.5C744.1 243.71 745.4 243.92 746.75 244.25C748.1 244.58 749.52 245.08 750.88 245.5C752.23 245.92 753.54 246.44 754.88 246.75C756.21 247.06 757.52 247.29 758.88 247.38C760.23 247.46 761.65 247.27 763 247.25C764.35 247.23 765.65 247.35 767 247.25C768.35 247.15 769.77 246.88 771.12 246.62C772.48 246.38 773.77 246.06 775.12 245.75C776.48 245.44 777.9 245.12 779.25 244.75C780.6 244.38 781.9 244.02 783.25 243.5C784.6 242.98 786.02 242.29 787.38 241.62C788.73 240.96 790.02 240.23 791.38 239.5C792.73 238.77 794.15 237.94 795.5 237.25C796.85 236.56 798.17 236 799.5 235.38C800.83 234.75 802.15 234.12 803.5 233.5C804.85 232.88 806.27 232.42 807.62 231.62C808.98 230.83 810.27 229.85 811.62 228.75C812.98 227.65 814.4 226.29 815.75 225C817.1 223.71 818.42 222.33 819.75 221C821.08 219.67 822.4 218.25 823.75 217C825.1 215.75 826.52 214.6 827.88 213.5C829.23 212.4 830.52 211.38 831.88 210.38C833.23 209.38 834.65 208.44 836 207.5C837.35 206.56 838.65 205.62 840 204.75C841.35 203.88 842.77 203.08 844.12 202.25C845.48 201.42 846.77 200.62 848.12 199.75C849.48 198.88 850.9 197.92 852.25 197C853.6 196.08 854.9 195.12 856.25 194.25C857.6 193.38 859.02 192.54 860.38 191.75C861.73 190.96 863.02 190.19 864.38 189.5C865.73 188.81 867.15 188.08 868.5 187.62C869.85 187.17 871.15 187.1 872.5 186.75C873.85 186.4 875.27 186.19 876.62 185.5C877.98 184.81 879.27 183.62 880.62 182.62C881.98 181.62 883.4 180.48 884.75 179.5C886.1 178.52 887.42 177.65 888.75 176.75C890.08 175.85 891.4 174.96 892.75 174.12C894.1 173.29 895.52 172.42 896.88 171.75C898.23 171.08 899.67 170.56 900.88 170.12C902.08 169.69 902.85 169.4 904.12 169.12C905.4 168.85 907.1 169.02 908.5 168.5C909.9 167.98 911.15 167.04 912.5 166C913.85 164.96 915.27 163.5 916.62 162.25C917.98 161 919.27 159.65 920.62 158.5C921.98 157.35 923.4 156.31 924.75 155.38C926.1 154.44 927.42 153.6 928.75 152.88C930.08 152.15 931.44 151.62 932.75 151C934.06 150.38 935.31 149.75 936.62 149.12C937.94 148.5 939.29 147.88 940.62 147.25C941.96 146.62 943.29 146 944.62 145.38C945.96 144.75 947.31 144.12 948.62 143.5C949.94 142.88 951.12 142.46 952.5 141.62C953.88 140.79 955.46 139.75 956.88 138.5C958.29 137.25 959.65 135.69 961 134.12C962.35 132.56 963.67 130.79 965 129.12C966.33 127.46 967.65 125.79 969 124.12C970.35 122.46 971.77 120.69 973.12 119.12C974.48 117.56 975.77 116 977.12 114.75C978.48 113.5 979.9 112.46 981.25 111.62C982.6 110.79 983.9 110.27 985.25 109.75C986.6 109.23 988 108.92 989.38 108.5C990.75 108.08 992.15 107.77 993.5 107.25C994.85 106.73 996.15 106 997.5 105.38C998.85 104.75 1000.27 104.06 1001.62 103.5C1002.98 102.94 1004.27 102.42 1005.62 102C1006.98 101.58 1008.4 101.06 1009.75 101C1011.1 100.94 1012.42 101.31 1013.75 101.62C1015.08 101.94 1016.4 102.52 1017.75 102.88C1019.1 103.23 1020.52 103.44 1021.88 103.75C1023.23 104.06 1024.56 104.27 1025.88 104.75C1027.19 105.23 1029.1 106.31 1029.75 106.62" stroke="#df2463" stroke-width="2.15"/>
<path d="M12.5 250.62C13.17 250.42 15.15 249.38 16.5 249.38C17.85 249.38 19.25 249.06 20.62 250.62C22 252.19 23.4 256.15 24.75 258.75C26.1 261.35 27.46 264.06 28.75 266.25C30.04 268.44 31.17 270.21 32.5 271.88C33.83 273.54 35.35 274.27 36.75 276.25C38.15 278.23 39.52 281.35 40.88 283.75C42.23 286.15 43.52 288.44 44.88 290.62C46.23 292.81 47.65 295.1 49 296.88C50.35 298.65 51.65 300.27 53 301.25C54.35 302.23 55.77 302.38 57.12 302.75C58.48 303.12 59.77 303.29 61.12 303.5C62.48 303.71 63.9 303.83 65.25 304C66.6 304.17 67.92 304.33 69.25 304.5C70.58 304.67 71.9 304.92 73.25 305C74.6 305.08 76.02 305.31 77.38 305C78.73 304.69 80.02 303.75 81.38 303.12C82.73 302.5 84.15 301.67 85.5 301.25C86.85 300.83 88.15 300.58 89.5 300.62C90.85 300.67 92.27 301.15 93.62 301.5C94.98 301.85 96.27 302.54 97.62 302.75C98.98 302.96 100.4 302.75 101.75 302.75C103.1 302.75 104.4 302.75 105.75 302.75C107.1 302.75 108.52 301.33 109.88 302.75C111.23 304.17 112.54 306.96 113.88 311.25C115.21 315.54 116.52 323.96 117.88 328.5C119.23 333.04 120.65 335.06 122 338.5C123.35 341.94 124.65 347.15 126 349.12C127.35 351.1 128.77 348.81 130.12 350.38C131.48 351.94 132.77 356.42 134.12 358.5C135.48 360.58 136.9 361.83 138.25 362.88C139.6 363.92 140.9 364.12 142.25 364.75C143.6 365.38 145.02 365.9 146.38 366.62C147.73 367.35 149.02 368.29 150.38 369.12C151.73 369.96 153.15 370.94 154.5 371.62C155.85 372.31 157.17 373.35 158.5 373.25C159.83 373.15 161.15 372.21 162.5 371C163.85 369.79 165.27 367.46 166.62 366C167.98 364.54 169.27 363.29 170.62 362.25C171.98 361.21 173.4 360.58 174.75 359.75C176.1 358.92 177.4 358.12 178.75 357.25C180.1 356.38 181.52 355.33 182.88 354.5C184.23 353.67 185.52 353.04 186.88 352.25C188.23 351.46 189.65 351.25 191 349.75C192.35 348.25 193.65 344.75 195 343.25C196.35 341.75 197.77 341.48 199.12 340.75C200.48 340.02 201.79 339.4 203.12 338.88C204.46 338.35 205.77 338.04 207.12 337.62C208.48 337.21 209.9 337.31 211.25 336.38C212.6 335.44 213.9 334.6 215.25 332C216.6 329.4 218.02 324.08 219.38 320.75C220.73 317.42 222.02 314.71 223.38 312C224.73 309.29 226.15 306.69 227.5 304.5C228.85 302.31 230.15 300.44 231.5 298.88C232.85 297.31 234.27 296.06 235.62 295.12C236.98 294.19 238.27 293.56 239.62 293.25C240.98 292.94 242.4 292.73 243.75 293.25C245.1 293.77 246.42 295.54 247.75 296.38C249.08 297.21 250.4 297.77 251.75 298.25C253.1 298.73 254.52 299.15 255.88 299.25C257.23 299.35 258.52 299.04 259.88 298.88C261.23 298.71 262.65 298.4 264 298.25C265.35 298.1 266.65 298.04 268 298C269.35 297.96 270.77 297.96 272.12 298C273.48 298.04 274.77 298.35 276.12 298.25C277.48 298.15 278.9 297.58 280.25 297.38C281.6 297.17 282.9 297.17 284.25 297C285.6 296.83 287.02 297 288.38 296.38C289.73 295.75 291.04 294.29 292.38 293.25C293.71 292.21 295.02 290.92 296.38 290.12C297.73 289.33 299.15 288.81 300.5 288.5C301.85 288.19 303.15 288.19 304.5 288.25C305.85 288.31 307.27 288.25 308.62 288.88C309.98 289.5 311.27 291.23 312.62 292C313.98 292.77 315.4 293.04 316.75 293.5C318.1 293.96 319.4 294.62 320.75 294.75C322.1 294.88 323.52 294.75 324.88 294.25C326.23 293.75 327.52 293 328.88 291.75C330.23 290.5 331.65 288.52 333 286.75C334.35 284.98 335.67 282.79 337 281.12C338.33 279.46 339.65 277.88 341 276.75C342.35 275.62 343.77 275.5 345.12 274.38C346.48 273.25 347.77 271.77 349.12 270C350.48 268.23 351.9 265.83 353.25 263.75C354.6 261.67 355.9 260 357.25 257.5C358.6 255 360.02 251.46 361.38 248.75C362.73 246.04 364.02 243.44 365.38 241.25C366.73 239.06 368.15 237.29 369.5 235.62C370.85 233.96 372.15 232.5 373.5 231.25C374.85 230 376.27 228.96 377.62 228.12C378.98 227.29 380.27 226.71 381.62 226.25C382.98 225.79 384.4 225.58 385.75 225.38C387.1 225.17 388.42 224.85 389.75 225C391.08 225.15 392.4 226.15 393.75 226.25C395.1 226.35 396.52 226.04 397.88 225.62C399.23 225.21 400.52 224.38 401.88 223.75C403.23 223.12 404.65 222.54 406 221.88C407.35 221.21 408.65 220.38 410 219.75C411.35 219.12 412.77 218.6 414.12 218.12C415.48 217.65 416.77 217.15 418.12 216.88C419.48 216.6 420.9 216.5 422.25 216.5C423.6 216.5 424.9 216.5 426.25 216.88C427.6 217.25 429.02 218.12 430.38 218.75C431.73 219.38 433.04 219.96 434.38 220.62C435.71 221.29 437.02 221.81 438.38 222.75C439.73 223.69 441.15 224.83 442.5 226.25C443.85 227.67 445.15 230 446.5 231.25C447.85 232.5 449.27 233.02 450.62 233.75C451.98 234.48 453.27 235 454.62 235.62C455.98 236.25 457.4 236.94 458.75 237.5C460.1 238.06 461.4 238.54 462.75 239C464.1 239.46 465.52 240.04 466.88 240.25C468.23 240.46 469.52 240.52 470.88 240.25C472.23 239.98 473.65 239.42 475 238.62C476.35 237.83 477.67 236.44 479 235.5C480.33 234.56 481.65 233.52 483 233C484.35 232.48 485.77 232.48 487.12 232.38C488.48 232.27 489.77 232.58 491.12 232.38C492.48 232.17 493.9 231.65 495.25 231.12C496.6 230.6 497.9 229.98 499.25 229.25C500.6 228.52 502.02 228.21 503.38 226.75C504.73 225.29 506.02 222.79 507.38 220.5C508.73 218.21 510.15 215.4 511.5 213C512.85 210.6 514.15 208.31 515.5 206.12C516.85 203.94 518.27 201.75 519.62 199.88C520.98 198 522.29 196.23 523.62 194.88C524.96 193.52 526.27 192.38 527.62 191.75C528.98 191.12 530.4 191.44 531.75 191.12C533.1 190.81 534.4 190.5 535.75 189.88C537.1 189.25 538.52 187.79 539.88 187.38C541.23 186.96 542.52 187.17 543.88 187.38C545.23 187.58 546.65 188 548 188.62C549.35 189.25 550.65 190.5 552 191.12C553.35 191.75 554.77 192.06 556.12 192.38C557.48 192.69 558.77 192.79 560.12 193C561.48 193.21 562.9 193.48 564.25 193.62C565.6 193.77 566.9 193.67 568.25 193.88C569.6 194.08 571.02 194.92 572.38 194.88C573.73 194.83 575.04 194.25 576.38 193.62C577.71 193 579.02 191.81 580.38 191.12C581.73 190.44 583.15 189.71 584.5 189.5C585.85 189.29 587.15 189.9 588.5 189.88C589.85 189.85 591.27 189.4 592.62 189.38C593.98 189.35 595.27 189.6 596.62 189.75C597.98 189.9 599.4 190.17 600.75 190.25C602.1 190.33 603.4 190.08 604.75 190.25C606.1 190.42 607.52 190.67 608.88 191.25C610.23 191.83 611.52 192.81 612.88 193.75C614.23 194.69 615.65 195.94 617 196.88C618.35 197.81 619.67 198.65 621 199.38C622.33 200.1 623.65 200.42 625 201.25C626.35 202.08 627.77 202.58 629.12 204.38C630.48 206.17 631.77 209.58 633.12 212C634.48 214.42 635.9 216.58 637.25 218.88C638.6 221.17 639.9 223.56 641.25 225.75C642.6 227.94 644.02 230.58 645.38 232C646.73 233.42 648.02 233.94 649.38 234.25C650.73 234.56 652.15 232.79 653.5 233.88C654.85 234.96 656.15 238.46 657.5 240.75C658.85 243.04 660.27 245.85 661.62 247.62C662.98 249.4 664.29 250.33 665.62 251.38C666.96 252.42 668.27 253.15 669.62 253.88C670.98 254.6 672.4 255.23 673.75 255.75C675.1 256.27 676.4 256.79 677.75 257C679.1 257.21 680.52 257.42 681.88 257C683.23 256.58 684.52 255.12 685.88 254.5C687.23 253.88 688.65 253.15 690 253.25C691.35 253.35 692.65 254.6 694 255.12C695.35 255.65 696.77 256.06 698.12 256.38C699.48 256.69 700.77 256.9 702.12 257C703.48 257.1 704.9 257 706.25 257C707.6 257 708.92 257.04 710.25 257C711.58 256.96 712.9 256.85 714.25 256.75C715.6 256.65 717.02 256.5 718.38 256.38C719.73 256.25 721.02 256.1 722.38 256C723.73 255.9 725.15 256.04 726.5 255.75C727.85 255.46 729.15 254.77 730.5 254.25C731.85 253.73 733.27 253.21 734.62 252.62C735.98 252.04 737.27 250.96 738.62 250.75C739.98 250.54 741.4 251.17 742.75 251.38C744.1 251.58 745.4 251.27 746.75 252C748.1 252.73 749.52 254.6 750.88 255.75C752.23 256.9 753.54 258.62 754.88 258.88C756.21 259.12 757.52 258.04 758.88 257.25C760.23 256.46 761.65 255.27 763 254.12C764.35 252.98 765.65 251.73 767 250.38C768.35 249.02 769.77 247.46 771.12 246C772.48 244.54 773.77 242.88 775.12 241.62C776.48 240.38 777.9 239.54 779.25 238.5C780.6 237.46 781.9 236.42 783.25 235.38C784.6 234.33 786.02 233.29 787.38 232.25C788.73 231.21 790.02 230.48 791.38 229.12C792.73 227.77 794.15 226.46 795.5 224.12C796.85 221.79 798.17 217.04 799.5 215.12C800.83 213.21 802.15 213.46 803.5 212.62C804.85 211.79 806.27 211.38 807.62 210.12C808.98 208.88 810.27 207.73 811.62 205.12C812.98 202.52 814.4 197.83 815.75 194.5C817.1 191.17 818.4 187.73 819.75 185.12C821.1 182.52 822.52 180.75 823.88 178.88C825.23 177 826.52 175.23 827.88 173.88C829.23 172.52 830.65 171.58 832 170.75C833.35 169.92 834.65 169.5 836 168.88C837.35 168.25 838.77 167.56 840.12 167C841.48 166.44 842.79 166.12 844.12 165.5C845.46 164.88 846.77 164 848.12 163.25C849.48 162.5 850.9 161.73 852.25 161C853.6 160.27 854.9 159.65 856.25 158.88C857.6 158.1 859.02 156.94 860.38 156.38C861.73 155.81 863.02 155.6 864.38 155.5C865.73 155.4 867.15 155.4 868.5 155.75C869.85 156.1 871.15 157.42 872.5 157.62C873.85 157.83 875.27 157.94 876.62 157C877.98 156.06 879.27 153.56 880.62 152C881.98 150.44 883.4 148.88 884.75 147.62C886.1 146.38 887.56 145.29 888.75 144.5C889.94 143.71 890.67 143.46 891.88 142.88C893.08 142.29 894.6 141.1 896 141C897.4 140.9 898.9 141.62 900.25 142.25C901.6 142.88 902.75 144.23 904.12 144.75C905.5 145.27 907.1 145.58 908.5 145.38C909.9 145.17 911.15 145.48 912.5 143.5C913.85 141.52 915.27 136.21 916.62 133.5C917.98 130.79 919.27 128.92 920.62 127.25C921.98 125.58 923.4 124.38 924.75 123.5C926.1 122.62 927.42 122.21 928.75 122C930.08 121.79 931.44 122.52 932.75 122.25C934.06 121.98 935.31 121.04 936.62 120.38C937.94 119.71 939.29 118.88 940.62 118.25C941.96 117.62 943.29 117.25 944.62 116.62C945.96 116 947.31 115.12 948.62 114.5C949.94 113.88 951.12 113.88 952.5 112.88C953.88 111.88 955.46 111.31 956.88 108.5C958.29 105.69 959.65 99.96 961 96C962.35 92.04 963.65 88.29 965 84.75C966.35 81.21 967.77 77.67 969.12 74.75C970.48 71.83 971.77 69.23 973.12 67.25C974.48 65.27 975.9 63.81 977.25 62.88C978.6 61.94 979.9 61.52 981.25 61.62C982.6 61.73 984.02 62.35 985.38 63.5C986.73 64.65 988.02 67.15 989.38 68.5C990.73 69.85 992.15 70.79 993.5 71.62C994.85 72.46 996.17 73.08 997.5 73.5C998.83 73.92 1000.15 73.92 1001.5 74.12C1002.85 74.33 1004.27 74.54 1005.62 74.75C1006.98 74.96 1008.27 74.12 1009.62 75.38C1010.98 76.62 1012.4 79.44 1013.75 82.25C1015.1 85.06 1016.4 89.75 1017.75 92.25C1019.1 94.75 1020.52 95.69 1021.88 97.25C1023.23 98.81 1024.52 99.75 1025.88 101.62C1027.23 103.5 1029.31 107.35 1030 108.5" stroke="#f47b36" stroke-width="2.15"/>
</g>
<circle cx="215.4" cy="335.3" r="3" fill="#1ec24e"/>
<circle cx="774.7" cy="245.7" r="3" fill="#1ec24e"/>
<circle cx="629.1" cy="204.4" r="3" fill="#f5174a"/>
<circle cx="1029.8" cy="108.8" r="3" fill="#f5174a"/>
<path d="M12.5 34.1H1054.5" stroke="#39985f" stroke-width="1.9" stroke-dasharray="7.708 3.333" fill="none"/>
<path d="M12.5 405.1H1054.5" stroke="#d63a35" stroke-width="1.9" stroke-dasharray="7.708 3.333" fill="none"/>
<g clip-path="url(#cv)" shape-rendering="crispEdges">
<rect x="10" y="568" width="5" height="28.5" fill="#18941c"/>
<rect x="14" y="544" width="5" height="52.5" fill="#18941c"/>
<rect x="18" y="568" width="5" height="28.5" fill="#fc0c08"/>
<rect x="22" y="533" width="5" height="63.5" fill="#fc0c08"/>
<rect x="27" y="545" width="4" height="51.5" fill="#fc0c08"/>
<rect x="31" y="552" width="4" height="44.5" fill="#18941c"/>
<rect x="35" y="556" width="4" height="40.5" fill="#18941c"/>
<rect x="39" y="531" width="4" height="65.5" fill="#fc0c08"/>
<rect x="43" y="542" width="4" height="54.5" fill="#fc0c08"/>
<rect x="47" y="543" width="4" height="53.5" fill="#fc0c08"/>
<rect x="51" y="551" width="4" height="45.5" fill="#fc0c08"/>
<rect x="55" y="545" width="4" height="51.5" fill="#18941c"/>
<rect x="59" y="539" width="4" height="57.5" fill="#18941c"/>
<rect x="63" y="501" width="4" height="95.5" fill="#fc0c08"/>
<rect x="67" y="529" width="4" height="67.5" fill="#18941c"/>
<rect x="71" y="529" width="4" height="67.5" fill="#18941c"/>
<rect x="75" y="471" width="5" height="125.5" fill="#18941c"/>
<rect x="79" y="531" width="5" height="65.5" fill="#18941c"/>
<rect x="83" y="552" width="5" height="44.5" fill="#18941c"/>
<rect x="87" y="556" width="5" height="40.5" fill="#fc0c08"/>
<rect x="91" y="545" width="5" height="51.5" fill="#fc0c08"/>
<rect x="95" y="554" width="5" height="42.5" fill="#fc0c08"/>
<rect x="99" y="515" width="5" height="81.5" fill="#18941c"/>
<rect x="104" y="549" width="4" height="47.5" fill="#18941c"/>
<rect x="108" y="550" width="4" height="46.5" fill="#18941c"/>
<rect x="112" y="520" width="4" height="76.5" fill="#fc0c08"/>
<rect x="116" y="502" width="4" height="94.5" fill="#fc0c08"/>
<rect x="120" y="478" width="4" height="118.5" fill="#18941c"/>
<rect x="124" y="477" width="4" height="119.5" fill="#fc0c08"/>
<rect x="128" y="468" width="4" height="128.5" fill="#18941c"/>
<rect x="132" y="500" width="4" height="96.5" fill="#fc0c08"/>
<rect x="136" y="509" width="4" height="87.5" fill="#18941c"/>
<rect x="140" y="518" width="4" height="78.5" fill="#18941c"/>
<rect x="144" y="515" width="4" height="81.5" fill="#18941c"/>
<rect x="148" y="532" width="4" height="64.5" fill="#fc0c08"/>
<rect x="152" y="516" width="5" height="80.5" fill="#18941c"/>
<rect x="156" y="532" width="5" height="64.5" fill="#fc0c08"/>
<rect x="160" y="550" width="5" height="46.5" fill="#18941c"/>
<rect x="164" y="526" width="5" height="70.5" fill="#fc0c08"/>
<rect x="168" y="567" width="5" height="29.5" fill="#18941c"/>
<rect x="172" y="573" width="5" height="23.5" fill="#18941c"/>
<rect x="176" y="554" width="5" height="42.5" fill="#18941c"/>
<rect x="181" y="561" width="4" height="35.5" fill="#18941c"/>
<rect x="185" y="550" width="4" height="46.5" fill="#18941c"/>
<rect x="189" y="553" width="4" height="43.5" fill="#18941c"/>
<rect x="193" y="558" width="4" height="38.5" fill="#18941c"/>
<rect x="197" y="535" width="4" height="61.5" fill="#18941c"/>
<rect x="201" y="555" width="4" height="41.5" fill="#fc0c08"/>
<rect x="205" y="550" width="4" height="46.5" fill="#fc0c08"/>
<rect x="209" y="566" width="4" height="30.5" fill="#18941c"/>
<rect x="213" y="560" width="4" height="36.5" fill="#fc0c08"/>
<rect x="217" y="519" width="4" height="77.5" fill="#18941c"/>
<rect x="221" y="541" width="4" height="55.5" fill="#18941c"/>
<rect x="225" y="553" width="5" height="43.5" fill="#18941c"/>
<rect x="229" y="536" width="5" height="60.5" fill="#18941c"/>
<rect x="233" y="548" width="5" height="48.5" fill="#18941c"/>
<rect x="237" y="564" width="5" height="32.5" fill="#18941c"/>
<rect x="241" y="574" width="5" height="22.5" fill="#fc0c08"/>
<rect x="245" y="558" width="5" height="38.5" fill="#fc0c08"/>
<rect x="249" y="556" width="5" height="40.5" fill="#18941c"/>
<rect x="253" y="561" width="5" height="35.5" fill="#18941c"/>
<rect x="258" y="558" width="4" height="38.5" fill="#18941c"/>
<rect x="262" y="562" width="4" height="34.5" fill="#fc0c08"/>
<rect x="266" y="565" width="4" height="31.5" fill="#18941c"/>
<rect x="270" y="502" width="4" height="94.5" fill="#fc0c08"/>
<rect x="274" y="547" width="4" height="49.5" fill="#18941c"/>
<rect x="278" y="553" width="4" height="43.5" fill="#18941c"/>
<rect x="282" y="569" width="4" height="27.5" fill="#fc0c08"/>
<rect x="286" y="563" width="4" height="33.5" fill="#fc0c08"/>
<rect x="290" y="568" width="4" height="28.5" fill="#18941c"/>
<rect x="294" y="571" width="4" height="25.5" fill="#fc0c08"/>
<rect x="298" y="570" width="4" height="26.5" fill="#18941c"/>
<rect x="302" y="540" width="5" height="56.5" fill="#fc0c08"/>
<rect x="306" y="561" width="5" height="35.5" fill="#18941c"/>
<rect x="310" y="559" width="5" height="37.5" fill="#fc0c08"/>
<rect x="314" y="570" width="5" height="26.5" fill="#fc0c08"/>
<rect x="318" y="566" width="5" height="30.5" fill="#fc0c08"/>
<rect x="322" y="556" width="5" height="40.5" fill="#18941c"/>
<rect x="326" y="472" width="5" height="124.5" fill="#18941c"/>
<rect x="330" y="556" width="5" height="40.5" fill="#18941c"/>
<rect x="335" y="560" width="4" height="36.5" fill="#fc0c08"/>
<rect x="339" y="543" width="4" height="53.5" fill="#18941c"/>
<rect x="343" y="533" width="4" height="63.5" fill="#18941c"/>
<rect x="347" y="534" width="4" height="62.5" fill="#18941c"/>
<rect x="351" y="545" width="4" height="51.5" fill="#fc0c08"/>
<rect x="355" y="515" width="4" height="81.5" fill="#18941c"/>
<rect x="359" y="535" width="4" height="61.5" fill="#18941c"/>
<rect x="363" y="556" width="4" height="40.5" fill="#18941c"/>
<rect x="367" y="511" width="4" height="85.5" fill="#18941c"/>
<rect x="371" y="495" width="4" height="101.5" fill="#18941c"/>
<rect x="375" y="512" width="4" height="84.5" fill="#fc0c08"/>
<rect x="379" y="510" width="5" height="86.5" fill="#18941c"/>
<rect x="383" y="538" width="5" height="58.5" fill="#18941c"/>
<rect x="387" y="549" width="5" height="47.5" fill="#fc0c08"/>
<rect x="391" y="518" width="5" height="78.5" fill="#fc0c08"/>
<rect x="395" y="511" width="5" height="85.5" fill="#fc0c08"/>
<rect x="399" y="527" width="5" height="69.5" fill="#18941c"/>
<rect x="403" y="540" width="5" height="56.5" fill="#18941c"/>
<rect x="407" y="557" width="5" height="39.5" fill="#fc0c08"/>
<rect x="412" y="550" width="4" height="46.5" fill="#18941c"/>
<rect x="416" y="551" width="4" height="45.5" fill="#18941c"/>
<rect x="420" y="549" width="4" height="47.5" fill="#fc0c08"/>
<rect x="424" y="557" width="4" height="39.5" fill="#fc0c08"/>
<rect x="428" y="565" width="4" height="31.5" fill="#fc0c08"/>
<rect x="432" y="570" width="4" height="26.5" fill="#fc0c08"/>
<rect x="436" y="563" width="4" height="33.5" fill="#fc0c08"/>
<rect x="440" y="560" width="4" height="36.5" fill="#fc0c08"/>
<rect x="444" y="538" width="4" height="58.5" fill="#fc0c08"/>
<rect x="448" y="562" width="4" height="34.5" fill="#18941c"/>
<rect x="452" y="564" width="4" height="32.5" fill="#fc0c08"/>
<rect x="456" y="568" width="5" height="28.5" fill="#fc0c08"/>
<rect x="460" y="569" width="5" height="27.5" fill="#fc0c08"/>
<rect x="464" y="575" width="5" height="21.5" fill="#18941c"/>
<rect x="468" y="563" width="5" height="33.5" fill="#fc0c08"/>
<rect x="472" y="560" width="5" height="36.5" fill="#18941c"/>
<rect x="476" y="564" width="5" height="32.5" fill="#18941c"/>
<rect x="480" y="574" width="5" height="22.5" fill="#18941c"/>
<rect x="484" y="569" width="5" height="27.5" fill="#fc0c08"/>
<rect x="489" y="568" width="4" height="28.5" fill="#18941c"/>
<rect x="493" y="560" width="4" height="36.5" fill="#18941c"/>
<rect x="497" y="552" width="4" height="44.5" fill="#18941c"/>
<rect x="501" y="566" width="4" height="30.5" fill="#fc0c08"/>
<rect x="505" y="556" width="4" height="40.5" fill="#18941c"/>
<rect x="509" y="570" width="4" height="26.5" fill="#fc0c08"/>
<rect x="513" y="559" width="4" height="37.5" fill="#18941c"/>
<rect x="517" y="558" width="4" height="38.5" fill="#18941c"/>
<rect x="521" y="554" width="4" height="42.5" fill="#fc0c08"/>
<rect x="525" y="552" width="4" height="44.5" fill="#18941c"/>
<rect x="529" y="561" width="4" height="35.5" fill="#fc0c08"/>
<rect x="533" y="557" width="5" height="39.5" fill="#18941c"/>
<rect x="537" y="571" width="5" height="25.5" fill="#18941c"/>
<rect x="541" y="570" width="5" height="26.5" fill="#fc0c08"/>
<rect x="545" y="558" width="5" height="38.5" fill="#fc0c08"/>
<rect x="549" y="556" width="5" height="40.5" fill="#fc0c08"/>
<rect x="553" y="569" width="5" height="27.5" fill="#18941c"/>
<rect x="557" y="570" width="5" height="26.5" fill="#18941c"/>
<rect x="561" y="576" width="5" height="20.5" fill="#fc0c08"/>
<rect x="566" y="565" width="4" height="31.5" fill="#18941c"/>
<rect x="570" y="572" width="4" height="24.5" fill="#fc0c08"/>
<rect x="574" y="567" width="4" height="29.5" fill="#18941c"/>
<rect x="578" y="573" width="4" height="23.5" fill="#18941c"/>
<rect x="582" y="529" width="4" height="67.5" fill="#fc0c08"/>
<rect x="586" y="571" width="4" height="25.5" fill="#fc0c08"/>
<rect x="590" y="569" width="4" height="27.5" fill="#fc0c08"/>
<rect x="594" y="558" width="4" height="38.5" fill="#18941c"/>
<rect x="598" y="575" width="4" height="21.5" fill="#fc0c08"/>
<rect x="602" y="576" width="4" height="20.5" fill="#fc0c08"/>
<rect x="606" y="561" width="4" height="35.5" fill="#fc0c08"/>
<rect x="610" y="564" width="5" height="32.5" fill="#fc0c08"/>
<rect x="614" y="567" width="5" height="29.5" fill="#fc0c08"/>
<rect x="618" y="573" width="5" height="23.5" fill="#18941c"/>
<rect x="622" y="573" width="5" height="23.5" fill="#fc0c08"/>
<rect x="626" y="548" width="5" height="48.5" fill="#fc0c08"/>
<rect x="630" y="562" width="5" height="34.5" fill="#fc0c08"/>
<rect x="634" y="561" width="5" height="35.5" fill="#fc0c08"/>
<rect x="638" y="555" width="5" height="41.5" fill="#fc0c08"/>
<rect x="643" y="548" width="4" height="48.5" fill="#fc0c08"/>
<rect x="647" y="557" width="4" height="39.5" fill="#18941c"/>
<rect x="651" y="523" width="4" height="73.5" fill="#18941c"/>
<rect x="655" y="443" width="4" height="153.5" fill="#fc0c08"/>
<rect x="659" y="516" width="4" height="80.5" fill="#fc0c08"/>
<rect x="663" y="521" width="4" height="75.5" fill="#fc0c08"/>
<rect x="667" y="541" width="4" height="55.5" fill="#18941c"/>
<rect x="671" y="520" width="4" height="76.5" fill="#fc0c08"/>
<rect x="675" y="554" width="4" height="42.5" fill="#fc0c08"/>
<rect x="679" y="551" width="4" height="45.5" fill="#fc0c08"/>
<rect x="683" y="547" width="4" height="49.5" fill="#18941c"/>
<rect x="687" y="543" width="5" height="53.5" fill="#fc0c08"/>
<rect x="691" y="557" width="5" height="39.5" fill="#fc0c08"/>
<rect x="695" y="539" width="5" height="57.5" fill="#fc0c08"/>
<rect x="699" y="554" width="5" height="42.5" fill="#18941c"/>
<rect x="703" y="563" width="5" height="33.5" fill="#18941c"/>
<rect x="707" y="552" width="5" height="44.5" fill="#18941c"/>
<rect x="711" y="561" width="5" height="35.5" fill="#18941c"/>
<rect x="716" y="557" width="4" height="39.5" fill="#18941c"/>
<rect x="720" y="569" width="4" height="27.5" fill="#fc0c08"/>
<rect x="724" y="567" width="4" height="29.5" fill="#18941c"/>
<rect x="728" y="567" width="4" height="29.5" fill="#18941c"/>
<rect x="732" y="573" width="4" height="23.5" fill="#fc0c08"/>
<rect x="736" y="553" width="4" height="43.5" fill="#18941c"/>
<rect x="740" y="574" width="4" height="22.5" fill="#fc0c08"/>
<rect x="744" y="554" width="4" height="42.5" fill="#18941c"/>
<rect x="748" y="545" width="4" height="51.5" fill="#fc0c08"/>
<rect x="752" y="554" width="4" height="42.5" fill="#18941c"/>
<rect x="756" y="548" width="4" height="48.5" fill="#18941c"/>
<rect x="760" y="536" width="4" height="60.5" fill="#fc0c08"/>
<rect x="764" y="543" width="5" height="53.5" fill="#18941c"/>
<rect x="768" y="519" width="5" height="77.5" fill="#18941c"/>
<rect x="772" y="555" width="5" height="41.5" fill="#18941c"/>
<rect x="776" y="564" width="5" height="32.5" fill="#fc0c08"/>
<rect x="780" y="579" width="5" height="17.5" fill="#fc0c08"/>
<rect x="784" y="567" width="5" height="29.5" fill="#18941c"/>
<rect x="788" y="569" width="5" height="27.5" fill="#fc0c08"/>
<rect x="793" y="556" width="4" height="40.5" fill="#18941c"/>
<rect x="797" y="554" width="4" height="42.5" fill="#18941c"/>
<rect x="801" y="567" width="4" height="29.5" fill="#18941c"/>
<rect x="805" y="547" width="4" height="49.5" fill="#fc0c08"/>
<rect x="809" y="541" width="4" height="55.5" fill="#18941c"/>
<rect x="813" y="545" width="4" height="51.5" fill="#18941c"/>
<rect x="817" y="549" width="4" height="47.5" fill="#18941c"/>
<rect x="821" y="557" width="4" height="39.5" fill="#fc0c08"/>
<rect x="825" y="553" width="4" height="43.5" fill="#fc0c08"/>
<rect x="829" y="559" width="4" height="37.5" fill="#fc0c08"/>
<rect x="833" y="559" width="4" height="37.5" fill="#fc0c08"/>
<rect x="837" y="550" width="4" height="46.5" fill="#fc0c08"/>
<rect x="841" y="499" width="5" height="97.5" fill="#18941c"/>
<rect x="845" y="568" width="5" height="28.5" fill="#18941c"/>
<rect x="849" y="573" width="5" height="23.5" fill="#fc0c08"/>
<rect x="853" y="583" width="5" height="13.5" fill="#18941c"/>
<rect x="857" y="579" width="5" height="17.5" fill="#18941c"/>
<rect x="861" y="570" width="5" height="26.5" fill="#fc0c08"/>
<rect x="865" y="579" width="5" height="17.5" fill="#fc0c08"/>
<rect x="870" y="569" width="4" height="27.5" fill="#fc0c08"/>
<rect x="874" y="551" width="4" height="45.5" fill="#18941c"/>
<rect x="878" y="520" width="4" height="76.5" fill="#18941c"/>
<rect x="882" y="546" width="4" height="50.5" fill="#18941c"/>
<rect x="886" y="550" width="4" height="46.5" fill="#fc0c08"/>
<rect x="890" y="525" width="4" height="71.5" fill="#18941c"/>
<rect x="894" y="532" width="4" height="64.5" fill="#fc0c08"/>
<rect x="898" y="532" width="4" height="64.5" fill="#18941c"/>
<rect x="902" y="549" width="4" height="47.5" fill="#fc0c08"/>
<rect x="906" y="529" width="4" height="67.5" fill="#18941c"/>
<rect x="910" y="539" width="4" height="57.5" fill="#18941c"/>
<rect x="914" y="486" width="4" height="110.5" fill="#fc0c08"/>
<rect x="918" y="469" width="5" height="127.5" fill="#18941c"/>
<rect x="922" y="504" width="5" height="92.5" fill="#18941c"/>
<rect x="926" y="474" width="5" height="122.5" fill="#fc0c08"/>
<rect x="930" y="524" width="5" height="72.5" fill="#fc0c08"/>
<rect x="934" y="541" width="5" height="55.5" fill="#18941c"/>
<rect x="938" y="547" width="5" height="49.5" fill="#18941c"/>
<rect x="942" y="541" width="5" height="55.5" fill="#fc0c08"/>
<rect x="947" y="541" width="4" height="55.5" fill="#18941c"/>
<rect x="951" y="550" width="4" height="46.5" fill="#18941c"/>
<rect x="955" y="546" width="4" height="50.5" fill="#18941c"/>
<rect x="959" y="512" width="4" height="84.5" fill="#18941c"/>
<rect x="963" y="510" width="4" height="86.5" fill="#18941c"/>
<rect x="967" y="509" width="4" height="87.5" fill="#18941c"/>
<rect x="971" y="542" width="4" height="54.5" fill="#18941c"/>
<rect x="975" y="546" width="4" height="50.5" fill="#fc0c08"/>
<rect x="979" y="545" width="4" height="51.5" fill="#18941c"/>
<rect x="983" y="542" width="4" height="54.5" fill="#fc0c08"/>
<rect x="987" y="541" width="4" height="55.5" fill="#fc0c08"/>
<rect x="991" y="540" width="5" height="56.5" fill="#18941c"/>
<rect x="995" y="542" width="5" height="54.5" fill="#18941c"/>
<rect x="999" y="544" width="5" height="52.5" fill="#18941c"/>
<rect x="1003" y="566" width="5" height="30.5" fill="#fc0c08"/>
<rect x="1007" y="556" width="5" height="40.5" fill="#18941c"/>
<rect x="1011" y="546" width="5" height="50.5" fill="#fc0c08"/>
<rect x="1015" y="539" width="5" height="57.5" fill="#fc0c08"/>
<rect x="1019" y="552" width="5" height="44.5" fill="#18941c"/>
<rect x="1024" y="537" width="4" height="59.5" fill="#fc0c08"/>
<rect x="1028" y="544" width="4" height="52.5" fill="#fc0c08"/>
</g>
<text x="484" y="480.8" font-size="58.33" font-weight="bold" text-anchor="middle" fill="#000" fill-opacity="0.05">PNC</text>
<text x="481" y="495.7" font-size="16.45" text-anchor="middle" fill="#000" fill-opacity="0.055">The PNC Financial Services Group, Inc.</text>
<path d="M12.5 12.5H1054.5V594.5H12.5Z" stroke="#989898" stroke-width="1" fill="none" shape-rendering="crispEdges"/>
<path d="M12.5 428.5H1054.5" stroke="#9c9c9c" stroke-width="1.4" fill="none"/>
<path d="M1054.5 405.2h5M1054.5 333.84h5M1054.5 262.48h5M1054.5 191.12h5M1054.5 119.76h5M1054.5 48.4h5M1054.5 553.3h5M1054.5 506.4h5M1054.5 459.4h5M20.61 594.5v5M105.72 594.5v5M190.83 594.5v5M275.94 594.5v5M357 594.5v5M446.16 594.5v5M531.27 594.5v5M616.38 594.5v5M709.6 594.5v5M786.6 594.5v5M875.77 594.5v5M956.83 594.5v5" stroke="#f2f2f2" stroke-width="1.1" fill="none"/>
<text x="1063.4" y="410.5" font-size="13.89" fill="#f2f2f2">140</text>
<text x="1063.4" y="339.14" font-size="13.89" fill="#f2f2f2">160</text>
<text x="1063.4" y="267.78" font-size="13.89" fill="#f2f2f2">180</text>
<text x="1063.4" y="196.42" font-size="13.89" fill="#f2f2f2">200</text>
<text x="1063.4" y="125.06" font-size="13.89" fill="#f2f2f2">220</text>
<text x="1063.4" y="53.7" font-size="13.89" fill="#f2f2f2">240</text>
<text x="1063.4" y="558.6" font-size="13.89" fill="#f2f2f2">2</text>
<text x="1063.4" y="511.7" font-size="13.89" fill="#f2f2f2">4</text>
<text x="1063.4" y="464.7" font-size="13.89" fill="#f2f2f2">6</text>
<text transform="translate(1106.5 222.5) rotate(-90)" font-size="13.89" text-anchor="middle" fill="#d4d4d4">Preis</text>
<text transform="translate(1088 513.5) rotate(-90)" font-size="13.89" text-anchor="middle" fill="#d4d4d4">Volumen</text>
<text transform="translate(1108 507) rotate(-90)" font-size="13.89" text-anchor="middle" fill="#d4d4d4">10<tspan dy="-5" font-size="9.7">6</tspan></text>
<text transform="translate(107.02 635) rotate(-45)" font-size="13.89" text-anchor="middle" fill="#f2f2f2">Apr 2025</text>
<text transform="translate(277.24 635) rotate(-45)" font-size="13.89" text-anchor="middle" fill="#f2f2f2">Jun 2025</text>
<text transform="translate(447.46 635) rotate(-45)" font-size="13.89" text-anchor="middle" fill="#f2f2f2">Aug 2025</text>
<text transform="translate(617.68 635) rotate(-45)" font-size="13.89" text-anchor="middle" fill="#f2f2f2">Oct 2025</text>
<text transform="translate(787.9 635) rotate(-45)" font-size="13.89" text-anchor="middle" fill="#f2f2f2">Dec 2025</text>
<text transform="translate(958.13 635) rotate(-45)" font-size="13.89" text-anchor="middle" fill="#f2f2f2">Feb 2026</text>
<rect x="915" y="434.2" width="10" height="9.4" fill="#f47b36"/>
<text x="930.5" y="441.9" font-size="12.2" font-weight="bold" fill="#f47b36">EMA 8</text>
<rect x="915" y="451" width="10" height="9.4" fill="#df2463"/>
<text x="930.5" y="459.1" font-size="12.2" font-weight="bold" fill="#df2463">EMA 34</text>
<rect x="828.6" y="13.2" width="97.8" height="17.8" rx="3" ry="3" fill="#0b0b0b" fill-opacity="0.9" stroke="#2fbf6b" stroke-width="1.6"/>
<text x="831.6" y="25.8" font-size="12.5" font-weight="bold" fill="#2fbf6b">$243.94 52W</text>
<path d="M928.8 28.7L963.5 33.04" stroke="#2fbf6b" stroke-width="2" fill="none"/>
<path d="M969.6 33.8L961.99 36.58L962.91 29.24Z" fill="#2fbf6b"/>
<rect x="174.9" y="408.4" width="98.6" height="17.6" rx="3" ry="3" fill="#0b0b0b" fill-opacity="0.9" stroke="#e0302c" stroke-width="1.6"/>
<text x="178.4" y="420.9" font-size="12.5" font-weight="bold" fill="#e0302c">$140.02 52W</text>
<path d="M173.4 410.9L139.5 406.25" stroke="#e82a28" stroke-width="2" fill="none"/>
<path d="M133.3 405.4L140.93 402.71L139.93 410.05Z" fill="#e82a28"/>
<rect x="208.1" y="407.2" width="12.6" height="14.6" fill="#1ec45a"/>
<text x="214.8" y="418.3" font-size="10.4" font-weight="bold" text-anchor="middle" fill="#fff">B</text>
<rect x="621.6" y="407.2" width="12.6" height="14.6" fill="#f0184c"/>
<text x="628.3" y="418.3" font-size="10.4" font-weight="bold" text-anchor="middle" fill="#fff">S</text>
<rect x="767.9" y="407.2" width="12.6" height="14.6" fill="#1ec45a"/>
<text x="774.6" y="418.3" font-size="10.4" font-weight="bold" text-anchor="middle" fill="#fff">B</text>
<rect x="1023.3" y="407.2" width="12.6" height="14.6" fill="#f0184c"/>
<text x="1030" y="418.3" font-size="10.4" font-weight="bold" text-anchor="middle" fill="#fff">S</text>
</g></svg></body></html>
